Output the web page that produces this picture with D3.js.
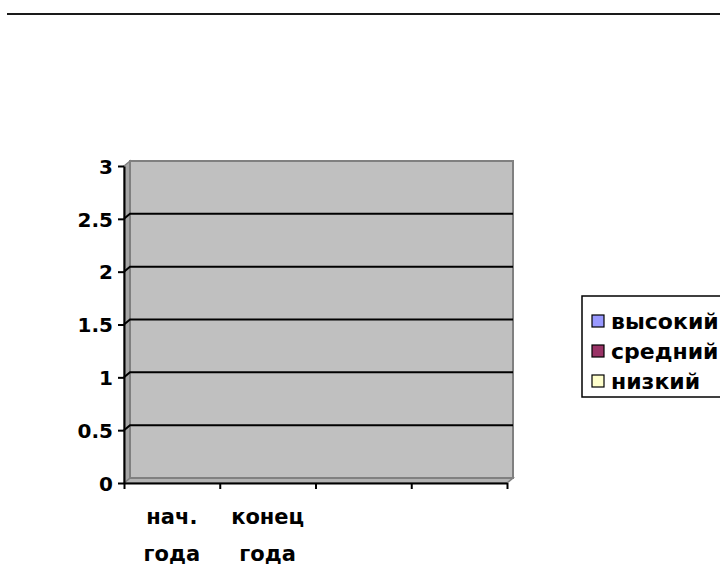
<!doctype html>
<html>
<head>
  <meta charset="utf-8">
  <title>d3</title>
  <style>
    body { margin: 0; background: #fff; }
    text { font-family: "DejaVu Sans", sans-serif; font-weight: bold; fill: #000; }
  </style>
</head>
<body>
  <svg width="720" height="565"></svg>

  <script src="https://d3js.org/d3.v7.min.js"></script>
  <script>
    const categories = ['нач. года', 'конец года', '', ''];
    const series = ['высокий', 'средний', 'низкий'];
    const seriesColors = ['#9999FF', '#993366', '#FFFFCC'];
    // no values in the chart: every cell is empty
    const vysokiy = [null, null, null, null];
    const sredniy = [null, null, null, null];
    const nizkiy = [null, null, null, null];
    const yTicks = [0, 0.5, 1, 1.5, 2, 2.5, 3];

    const svg = d3.select('svg');
    const plotLeft = 124, plotRight = 507, plotTop = 166, plotBottom = 483;
    const dx = 6, dy = -5; // depth of the 3d walls

    // the line across the top of the page
    svg.append('line')
      .attr('x1', 7).attr('x2', 720).attr('y1', 14).attr('y2', 14)
      .attr('stroke', '#1a1a1a').attr('stroke-width', 2);

    const x = d3.scaleBand().domain(d3.range(categories.length)).range([plotLeft, plotRight]);
    const xEdge = d3.scaleLinear().domain([0, categories.length]).range([plotLeft, plotRight]);
    const y = d3.scaleLinear().domain([0, 3]).range([plotBottom, plotTop]);

    const g = svg.append('g');

    // floor
    g.append('polygon')
      .attr('points', [[plotLeft, plotBottom], [plotRight, plotBottom], [plotRight + dx, plotBottom + dy], [plotLeft + dx, plotBottom + dy]].join(' '))
      .attr('fill', '#b4b4b4').attr('stroke', '#808080').attr('stroke-width', 1.5);

    // side wall
    g.append('polygon')
      .attr('points', [[plotLeft, plotBottom], [plotLeft, plotTop], [plotLeft + dx, plotTop + dy], [plotLeft + dx, plotBottom + dy]].join(' '))
      .attr('fill', '#a6a6a6').attr('stroke', '#808080').attr('stroke-width', 1.5);

    // back wall
    g.append('rect')
      .attr('x', plotLeft + dx).attr('y', plotTop + dy)
      .attr('width', plotRight - plotLeft).attr('height', plotBottom - plotTop)
      .attr('fill', '#c0c0c0').attr('stroke', '#808080').attr('stroke-width', 2);

    // gridlines
    const grid = yTicks.filter(d => d > 0 && d < 3);
    g.selectAll('.grid')
      .data(grid)
      .join('polyline')
      .attr('points', d => [[plotLeft, y(d)], [plotLeft + dx, y(d) + dy], [plotRight + dx, y(d) + dy]].join(' '))
      .attr('fill', 'none').attr('stroke', '#000').attr('stroke-width', 2);

    // bars (all values empty)
    [vysokiy, sredniy, nizkiy].forEach((vals, si) => {
      const sub = x.bandwidth() / 4;
      g.selectAll('.bar' + si)
        .data(vals.map((v, i) => ({ v, i })).filter(d => d.v != null))
        .join('rect')
        .attr('x', d => x(d.i) + sub * (si + 0.5))
        .attr('width', sub)
        .attr('y', d => y(d.v))
        .attr('height', d => y(0) - y(d.v))
        .attr('fill', seriesColors[si]).attr('stroke', '#000');
    });

    // y axis
    const yAxis = g.append('g')
      .attr('transform', `translate(${plotLeft}, 0)`)
      .call(d3.axisLeft(y).tickValues(yTicks).tickSize(6).tickSizeOuter(0).tickPadding(5).tickFormat(d => String(d)));
    yAxis.selectAll('path, line').attr('stroke', '#000').attr('stroke-width', 2);
    yAxis.attr('font-family', null).attr('font-size', null);
    yAxis.selectAll('text')
      .attr('font-size', 20).attr('dy', '0.36em');

    // x axis: ticks between categories
    const xAxis = g.append('g')
      .attr('transform', `translate(0, ${plotBottom})`)
      .call(d3.axisBottom(xEdge).tickValues(d3.range(categories.length + 1)).tickSize(6).tickSizeOuter(0).tickFormat(''));
    xAxis.selectAll('path, line').attr('stroke', '#000').attr('stroke-width', 2);

    // category labels, two lines
    const labels = g.selectAll('.cat')
      .data(categories)
      .join('text')
      .attr('text-anchor', 'middle')
      .attr('font-size', 21)
      .attr('transform', (d, i) => `translate(${x(i) + x.bandwidth() / 2}, 524)`);
    labels.each(function (d) {
      const words = d.split(' ').filter(w => w);
      d3.select(this).selectAll('tspan')
        .data(words)
        .join('tspan')
        .attr('x', 0)
        .attr('y', (w, j) => j * 37)
        .text(w => w);
    });

    // legend
    const legend = svg.append('g').attr('transform', 'translate(582, 296)');
    legend.append('rect')
      .attr('width', 160).attr('height', 101)
      .attr('fill', '#fff').attr('stroke', '#000').attr('stroke-width', 1.5);
    const item = legend.selectAll('.item')
      .data(series)
      .join('g')
      .attr('transform', (d, i) => `translate(10, ${25 + i * 30})`);
    item.append('rect')
      .attr('x', 0).attr('y', -6).attr('width', 12).attr('height', 12)
      .attr('fill', (d, i) => seriesColors[i]).attr('stroke', '#000').attr('stroke-width', 1.2);
    item.append('text')
      .attr('x', 19).attr('dy', '0.36em')
      .attr('font-size', 22)
      .text(d => d);
  </script>
</body>
</html>
